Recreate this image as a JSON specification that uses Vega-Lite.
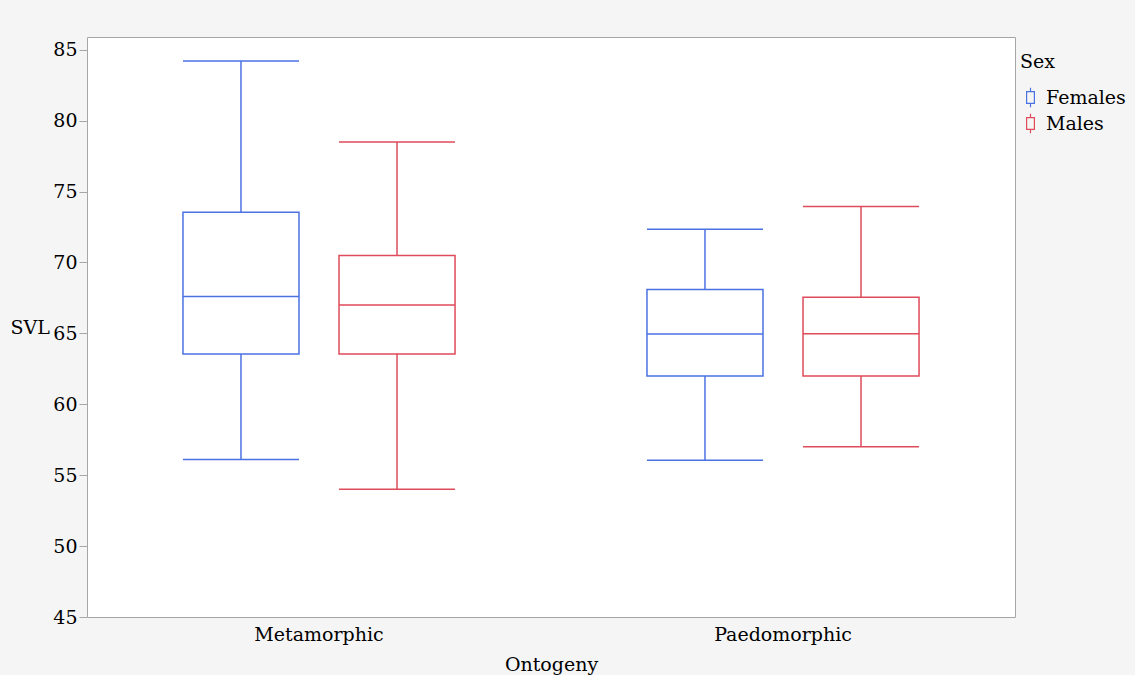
{
  "$schema": "https://vega.github.io/schema/vega-lite/v6.json",
  "width": 928,
  "height": 580,
  "autosize": {"type": "none"},
  "padding": {"left": 87, "top": 37, "right": 120, "bottom": 58},
  "background": "#f5f5f5",
  "view": {"fill": "white", "stroke": "#a6a6a6", "strokeWidth": 1},
  "config": {"font": "DejaVu Serif"},
  "data": {
    "values": [
      {"Ontogeny": "Metamorphic", "Sex": "Females", "lower": 56.1, "q1": 63.55, "median": 67.6, "q3": 73.55, "upper": 84.2},
      {"Ontogeny": "Metamorphic", "Sex": "Males", "lower": 54.0, "q1": 63.55, "median": 67.0, "q3": 70.5, "upper": 78.5},
      {"Ontogeny": "Paedomorphic", "Sex": "Females", "lower": 56.05, "q1": 62.0, "median": 64.95, "q3": 68.1, "upper": 72.35},
      {"Ontogeny": "Paedomorphic", "Sex": "Males", "lower": 57.0, "q1": 62.0, "median": 64.97, "q3": 67.55, "upper": 73.95}
    ]
  },
  "encoding": {
    "x": {
      "field": "Ontogeny",
      "type": "nominal",
      "scale": {"paddingInner": 0, "paddingOuter": 0},
      "axis": {
        "title": "Ontogeny",
        "labelAngle": 0,
        "ticks": false,
        "domain": false,
        "labelFontSize": 19,
        "labelColor": "black",
        "labelPadding": 8,
        "titleFontSize": 19,
        "titleFontWeight": "normal",
        "titleColor": "black",
        "titlePadding": 11
      }
    },
    "xOffset": {
      "field": "Sex",
      "type": "nominal",
      "scale": {"domain": ["Females", "Males"], "paddingInner": 0.2564, "paddingOuter": 0.615}
    },
    "color": {
      "field": "Sex",
      "type": "nominal",
      "scale": {"domain": ["Females", "Males"], "range": ["#4a72e2", "#df4b5b"]},
      "legend": {
        "orient": "none",
        "legendX": 933,
        "legendY": 16,
        "title": "Sex",
        "titleFontSize": 19,
        "titleFontWeight": "normal",
        "titleColor": "black",
        "titlePadding": 15,
        "labelFontSize": 19,
        "labelColor": "black",
        "labelOffset": 5,
        "rowPadding": 1,
        "symbolType": "M0,-1V-0.6M-0.4,-0.6H0.4V0.6H-0.4ZM0,0.6V1",
        "symbolSize": 380,
        "symbolStrokeWidth": 1.2
      }
    }
  },
  "layer": [
    {
      "mark": {"type": "rule", "strokeWidth": 1.5},
      "encoding": {
        "y": {
          "field": "lower",
          "type": "quantitative",
          "scale": {"domain": [45, 85.9], "nice": false, "zero": false},
          "axis": {
            "title": "SVL",
            "values": [45, 47.5, 50, 52.5, 55, 57.5, 60, 62.5, 65, 67.5, 70, 72.5, 75, 77.5, 80, 82.5, 85],
            "labelExpr": "datum.value % 5 === 0 ? datum.label : ''",
            "grid": false,
            "domain": false,
            "tickSize": 8,
            "tickColor": "#a6a6a6",
            "labelPadding": 2,
            "labelFontSize": 19,
            "labelColor": "black",
            "titleAngle": 0,
            "titleX": -77,
            "titleY": 290,
            "titleAlign": "left",
            "titleBaseline": "middle",
            "titleFontSize": 19,
            "titleFontWeight": "normal",
            "titleColor": "black",
            "encode": {"ticks": {"x2": {"value": {"expr": "datum.value % 5 === 0 ? -8 : -4"}}}}
          }
        },
        "y2": {"field": "q1"}
      }
    },
    {
      "mark": {"type": "rule", "strokeWidth": 1.5},
      "encoding": {
        "y": {"field": "q3", "type": "quantitative", "title": "SVL"},
        "y2": {"field": "upper"}
      }
    },
    {
      "mark": {"type": "bar", "filled": false, "strokeWidth": 1.5},
      "encoding": {
        "y": {"field": "q1", "type": "quantitative", "title": "SVL"},
        "y2": {"field": "q3"}
      }
    },
    {
      "mark": {"type": "bar", "filled": false, "strokeWidth": 1.5},
      "encoding": {
        "y": {"field": "median", "type": "quantitative", "title": "SVL"},
        "y2": {"field": "median"}
      }
    },
    {
      "mark": {"type": "bar", "filled": false, "strokeWidth": 1.5},
      "encoding": {
        "y": {"field": "lower", "type": "quantitative", "title": "SVL"},
        "y2": {"field": "lower"}
      }
    },
    {
      "mark": {"type": "bar", "filled": false, "strokeWidth": 1.5},
      "encoding": {
        "y": {"field": "upper", "type": "quantitative", "title": "SVL"},
        "y2": {"field": "upper"}
      }
    }
  ]
}
